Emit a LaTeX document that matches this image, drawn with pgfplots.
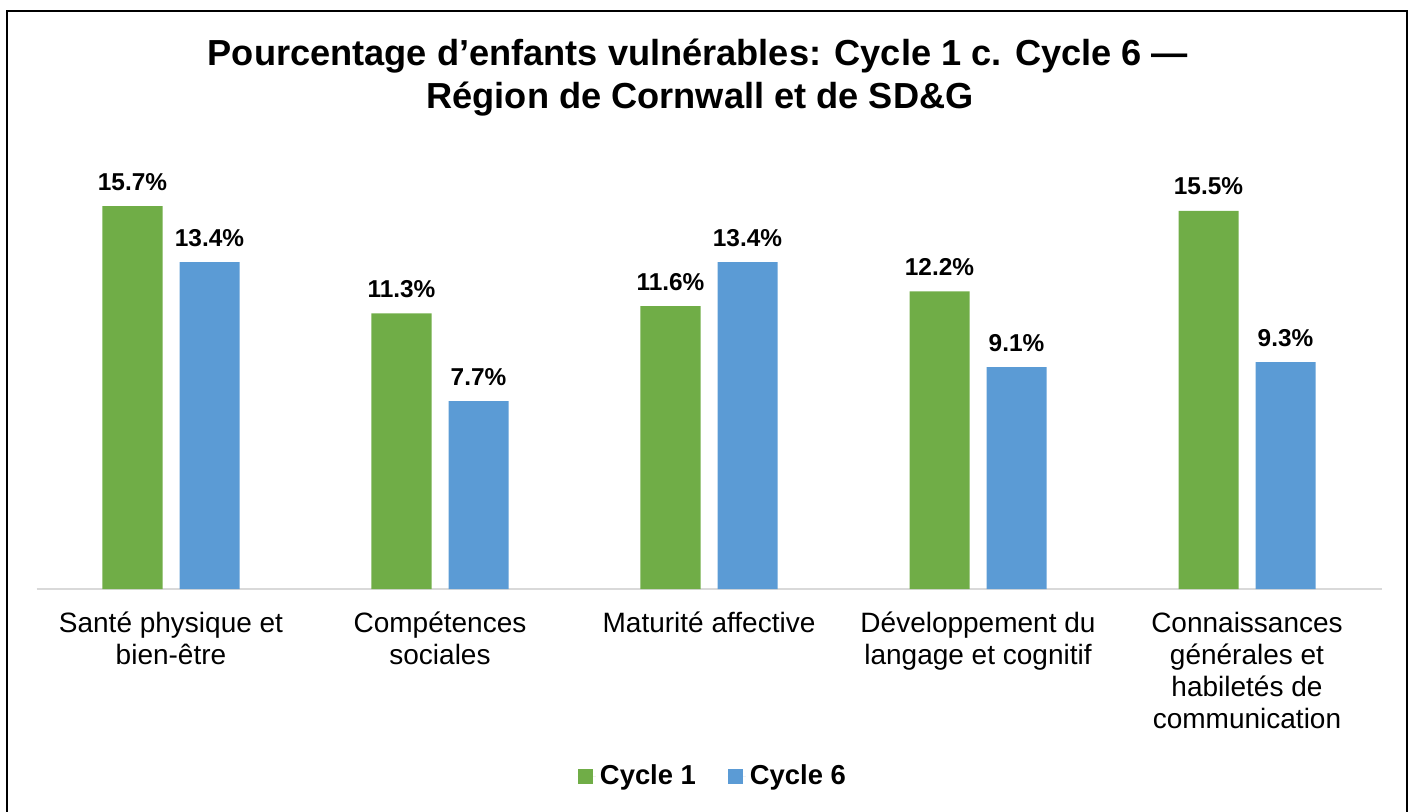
\documentclass[border=0pt]{standalone}
\usepackage{fontspec}
\setmainfont{Liberation Sans}
\usepackage{pgfplots}
\pgfplotsset{compat=1.18}
\definecolor{cgreen}{HTML}{70AD47}
\definecolor{cblue}{HTML}{5B9BD5}
\begin{document}
\begin{tikzpicture}
\useasboundingbox (0,0) rectangle (707pt,405.5pt);
\draw[line width=1pt] (3.5pt,-2pt) -- (3.5pt,400pt) -- (703.5pt,400pt) -- (703.5pt,-2pt);
\node[anchor=base, font=\fontsize{18.1}{21}\selectfont\bfseries, inner sep=0pt] at (349pt,373pt) {Pourcentage d’enfants vulnérables: Cycle 1 c. Cycle 6 —};
\node[anchor=base, font=\fontsize{18.1}{21}\selectfont\bfseries, inner sep=0pt] at (350pt,351.5pt) {Région de Cornwall et de SD\&G};
\begin{axis}[
  at={(18.25pt,111pt)}, anchor=south west,
  scale only axis, width=672.5pt, height=219.5pt,
  ybar=8.5pt, bar width=30pt,
  xmin=-0.5, xmax=4.5, ymin=0, ymax=18,
  axis x line=bottom, axis y line=none,
  x axis line style={-, draw=black!15, line width=0.75pt},
  ytick=\empty,
  xtick=data, xtick style={draw=none},
  xticklabels={{\rule{0pt}{13pt}Santé physique et\\bien-être},{\rule{0pt}{13pt}Compétences\\sociales},{\rule{0pt}{13pt}Maturité affective},{\rule{0pt}{13pt}Développement du\\langage et cognitif},{\rule{0pt}{13pt}Connaissances\\générales et\\habiletés de\\communication}},
  xticklabel style={anchor=north, align=center, inner sep=0pt, yshift=-6.5pt, font=\fontsize{14}{16}\selectfont},
  /pgf/number format/assume math mode=true,
  nodes near coords={\pgfmathprintnumber[fixed,precision=1,fixed zerofill]{\pgfplotspointmeta}\%},
  every node near coord/.append style={font=\fontsize{12.2}{14}\selectfont\bfseries, inner sep=0pt, yshift=7.7pt},
  legend columns=2,
  legend style={at={(0.5037,-0.426)}, anchor=center, draw=none, font=\fontsize{13.7}{16}\selectfont\bfseries, /tikz/every even column/.style={column sep=14pt}},
  legend image code/.code={\fill[#1] (0pt,-3.75pt) rectangle (7.5pt,3.75pt); \path (0pt,0pt) -- (9pt,0pt);},
]
\addplot[fill=cgreen, draw=none] coordinates {(0,15.7) (1,11.3) (2,11.6) (3,12.2) (4,15.5)};
\addplot[fill=cblue, draw=none] coordinates {(0,13.4) (1,7.7) (2,13.4) (3,9.1) (4,9.3)};
\legend{Cycle 1, Cycle 6}
\end{axis}
\end{tikzpicture}
\end{document}
